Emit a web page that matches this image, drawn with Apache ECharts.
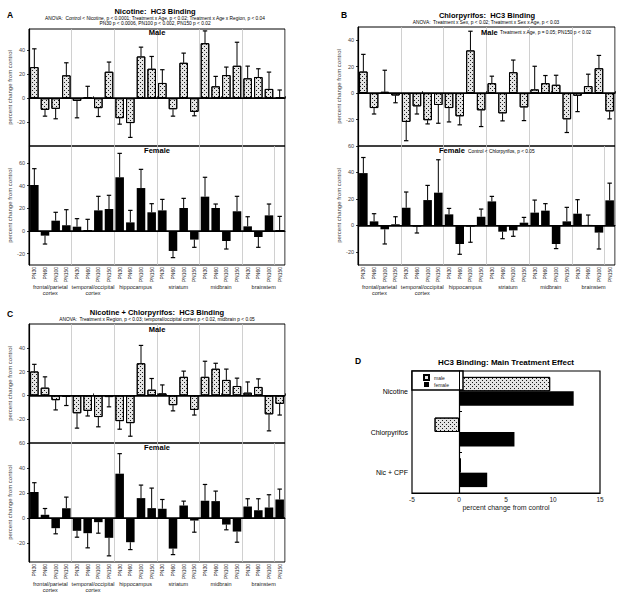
<!DOCTYPE html>
<html><head><meta charset="utf-8">
<script src="https://cdn.jsdelivr.net/npm/echarts@6/dist/echarts.min.js"></script>
<style>html,body{margin:0;padding:0;background:#fff}#c{width:625px;height:600px}</style>
</head><body><div id="c"></div>
<script>
// ---------- data ----------
const ageLabels = ['PN30', 'PN60', 'PN100', 'PN150'];
const regionLabels = ['frontal/parietal\ncortex', 'temporal/occipital\ncortex', 'hippocampus', 'striatum', 'midbrain', 'brainstem'];
const barKeys = [];
regionLabels.forEach((r, ri) => ageLabels.forEach(a => barKeys.push(a + '|' + ri)));

// Panel A: Nicotine (value, error-bar end)
const nicMale = [26.1, -9.7, -8.9, 19.2, -2.2, 0.5, -8.3, 22.2, -16.7, -20.8, 35.0, 24.7, 12.8, -9.2, 29.7, -11.4, 46.1, 10.0, 19.4, 27.2, 16.7, 17.8, 7.8, 0.8];
const nicMaleErr = [41.4, -15.0, -17.2, 29.7, -16.4, 10.0, -15.3, 30.3, -21.7, -32.8, 42.8, 35.0, 23.9, -15.0, 37.8, -14.7, 56.4, 18.3, 26.1, 46.9, 26.9, 24.7, 21.9, 6.9];
const nicFemale = [40.6, -4.1, 9.1, 5.0, 3.8, 0.9, 18.2, 19.4, 47.4, 7.6, 37.9, 16.5, 18.2, -17.6, 20.3, -7.6, 30.3, 20.3, -8.8, 17.4, 4.1, -5.3, 13.8, 0.9];
const nicFemaleErr = [55.0, -11.5, 16.5, 18.8, 10.9, 10.3, 30.6, 31.5, 68.5, 18.2, 54.4, 24.1, 27.9, -23.5, 28.8, -14.4, 47.4, 23.8, -15.9, 30.6, 12.6, -14.4, 23.8, 12.9];

// Panel B: Chlorpyrifos
const cpfMale = [16.3, -11.3, 1.0, -1.8, -21.8, -10.0, -20.5, -9.0, -11.3, -17.5, 32.3, -13.0, 7.5, -15.3, 15.8, -10.8, 2.8, 7.5, 6.3, -19.8, -2.0, 5.3, 18.8, -13.8];
const cpfMaleErr = [29.3, -15.8, 17.3, -7.3, -36.0, -15.8, -23.3, -22.8, -21.8, -24.0, 46.8, -25.3, 12.8, -21.0, 25.0, -20.8, 20.3, 13.3, 13.5, -29.8, -14.0, 14.3, 28.5, -19.5];
const cpfFemale = [39.5, 3.0, -3.0, 0.8, 13.3, -1.0, 19.1, 24.7, 8.3, -14.1, -1.0, 6.5, 18.1, -4.8, -3.8, 2.0, 9.6, 11.1, -14.1, 3.0, 8.8, 0.3, -5.5, 18.9];
const cpfFemaleErr = [51.3, 8.8, -14.1, 6.5, 25.2, -5.8, 30.2, 49.6, 12.8, -21.9, -12.8, 12.3, 21.9, -10.1, -8.3, 6.0, 19.1, 16.4, -17.6, 13.6, 19.4, 7.8, -17.9, 31.9];

// Panel C: Nicotine + Chlorpyrifos
const ncMale = [20.1, 6.5, -4.0, -1.1, -15.0, -13.0, -18.2, -1.4, -21.6, -23.3, 27.0, 4.8, 1.7, -8.2, 15.6, -12.2, 15.6, 22.4, 13.0, 7.9, 2.3, 7.1, -15.9, -7.1];
const ncMaleErr = [26.1, 15.6, -12.2, -8.5, -27.5, -17.3, -26.4, -9.6, -28.4, -34.3, 42.0, 14.2, 8.8, -13.0, 20.4, -16.5, 28.7, 27.0, 22.1, 14.5, 11.3, 13.9, -29.8, -16.5];
const ncFemale = [20.8, 2.7, -8.0, 8.0, -10.1, -12.0, -3.2, -15.7, 35.5, -19.2, 16.0, 8.0, 7.5, -24.3, 10.1, -1.9, 13.9, 13.6, -5.1, -10.7, 9.3, 6.4, 8.5, 14.9];
const ncFemaleErr = [28.3, 7.7, -12.5, 16.8, -15.2, -23.7, -12.0, -30.1, 51.5, -25.1, 26.4, 24.0, 14.9, -29.1, 13.6, -11.2, 26.9, 21.6, -9.3, -19.2, 15.5, 15.5, 18.7, 23.2];

// Panel D: main treatment effect
const treatments = ['Nicotine', 'Chlorpyrifos', 'Nic + CPF'];
const mainMale = [9.7, -2.6, 0.2];
const mainFemale = [12.2, 5.9, 3.0];

// ---------- layout ----------
const FONT = 'Liberation Sans, Arial, Helvetica, sans-serif';
const dotDecal = {
  symbol: 'rect', symbolSize: 1, color: '#1a1a1a',
  dashArrayX: [[1, 3], [0, 2, 1, 1]], dashArrayY: [1, 1], rotation: 0
};
const maleStyle = { color: '#e4e4e4', borderColor: '#000', borderWidth: 1, decal: dotDecal };
const femaleStyle = { color: '#000' };

const panels = [
  { box: { left: 29, top: 29, width: 256, height: 117 }, min: -40, max: 58, ticks: [-20, 0, 20, 40], val: nicMale, err: nicMaleErr, male: true },
  { box: { left: 29, top: 146, width: 256, height: 119 }, min: -30, max: 75, ticks: [-20, 0, 20, 40, 60], val: nicFemale, err: nicFemaleErr, male: false },
  { box: { left: 358, top: 27, width: 257, height: 119 }, min: -40, max: 50, ticks: [-20, 0, 20, 40], val: cpfMale, err: cpfMaleErr, male: true },
  { box: { left: 358, top: 146, width: 257, height: 119 }, min: -30, max: 60, ticks: [-20, 0, 20, 40, 60], val: cpfFemale, err: cpfFemaleErr, male: false },
  { box: { left: 29, top: 324, width: 256, height: 119 }, min: -40, max: 60, ticks: [-20, 0, 20, 40], val: ncMale, err: ncMaleErr, male: true },
  { box: { left: 29, top: 443, width: 256, height: 119 }, min: -35, max: 60, ticks: [-20, 0, 20, 40, 60], val: ncFemale, err: ncFemaleErr, male: false }
];

const grid = [], xAxis = [], yAxis = [], series = [];
panels.forEach((p, i) => {
  grid.push(Object.assign({ show: true, borderColor: '#000', borderWidth: 1, containLabel: false }, p.box));
  const xi = xAxis.length;
  xAxis.push({
    type: 'category', gridIndex: i, data: barKeys, boundaryGap: true, position: 'bottom',
    axisLine: { show: true, lineStyle: { color: '#000', width: 1 } },
    axisTick: { show: p.male, inside: true, length: 2, lineStyle: { color: '#000', width: 0.8 } },
    axisLabel: p.male ? { show: false } : {
      show: true, rotate: 90, interval: 0, fontSize: 5, color: '#222', margin: 2, fontFamily: FONT,
      formatter: v => v.split('|')[0]
    },
    splitLine: { show: true, interval: 3, lineStyle: { color: '#c4c4c4', width: 0.8 } }
  });
  if (!p.male) {
    xAxis.push({
      type: 'category', gridIndex: i, data: regionLabels, position: 'bottom', offset: 19,
      axisLine: { show: false }, axisTick: { show: false }, splitLine: { show: false },
      axisLabel: { interval: 0, fontSize: 5.5, lineHeight: 5.8, color: '#222', margin: 0, fontFamily: FONT }
    });
  }
  yAxis.push({
    type: 'value', gridIndex: i, min: p.min, max: p.max,
    axisLine: { show: true, lineStyle: { color: '#000', width: 1.2 } },
    axisTick: { show: true, length: 2, customValues: p.ticks, lineStyle: { color: '#000', width: 0.8 } },
    axisLabel: { customValues: p.ticks, fontSize: 5.5, color: '#444', margin: 4, fontFamily: FONT },
    splitLine: { show: false },
    name: 'percent change from control', nameLocation: 'middle', nameGap: 12,
    nameTextStyle: { fontSize: 6, color: '#444', fontFamily: FONT }
  });
  series.push({
    type: 'bar', xAxisIndex: xi, yAxisIndex: i, data: p.val, barCategoryGap: '20%',
    itemStyle: p.male ? maleStyle : femaleStyle, z: 2, silent: true,
    markLine: {
      silent: true, symbol: ['none', 'none'], label: { show: false },
      lineStyle: { color: '#000', width: 1.5, type: 'solid' }, data: [{ yAxis: 0 }]
    }
  });
  series.push({
    type: 'custom', xAxisIndex: xi, yAxisIndex: i, z: 3, silent: true,
    encode: { x: 0, y: 1 },
    data: p.val.map((v, k) => [k, v, p.err[k]]),
    renderItem: (params, api) => {
      const p0 = api.coord([api.value(0), api.value(1)]);
      const p1 = api.coord([api.value(0), api.value(2)]);
      const hw = 2.2;
      return {
        type: 'group', children: [
          { type: 'line', shape: { x1: p0[0], y1: p0[1], x2: p1[0], y2: p1[1] }, style: { stroke: '#000', lineWidth: 1 } },
          { type: 'line', shape: { x1: p1[0] - hw, y1: p1[1], x2: p1[0] + hw, y2: p1[1] }, style: { stroke: '#000', lineWidth: 1.2 } }
        ]
      };
    }
  });
});

// Panel D
const gD = grid.length;
grid.push({ left: 412, top: 371, width: 188, height: 122, show: true, borderColor: '#000', borderWidth: 1.2, containLabel: false });
const xD = xAxis.length;
xAxis.push({
  type: 'value', gridIndex: gD, min: -5, max: 15, interval: 5,
  axisLine: { show: true, lineStyle: { color: '#000', width: 1.2 } },
  axisTick: { show: false }, splitLine: { show: false },
  axisLabel: { fontSize: 6.5, color: '#222', margin: 3, fontFamily: FONT },
  name: 'percent change from control', nameLocation: 'middle', nameGap: 10,
  nameTextStyle: { fontSize: 7, color: '#222', fontFamily: FONT }
});
const yD = yAxis.length;
yAxis.push({
  type: 'category', gridIndex: gD, data: treatments, inverse: true,
  axisLine: { show: true, lineStyle: { color: '#000', width: 1.2 } },
  axisTick: { show: true, inside: true, length: 3, lineStyle: { color: '#000' } },
  axisLabel: { fontSize: 7, color: '#000', margin: 4, fontFamily: FONT },
  splitLine: { show: false }
});
series.push({
  name: 'male', type: 'bar', xAxisIndex: xD, yAxisIndex: yD, data: mainMale,
  barGap: '0%', barCategoryGap: '29%', itemStyle: maleStyle, z: 2, silent: true
});
series.push({
  name: 'female', type: 'bar', xAxisIndex: xD, yAxisIndex: yD, data: mainFemale,
  barGap: '0%', barCategoryGap: '29%', itemStyle: femaleStyle, z: 2, silent: true,
  markLine: {
    silent: true, symbol: ['none', 'none'], label: { show: false },
    lineStyle: { color: '#000', width: 1, type: 'solid' }, data: [{ xAxis: 0 }]
  }
});

// Texts
const texts = [
  ['A', 10, 14.7, 8.5, true, 'center'],
  ['Nicotine:  HC3 Binding', 155, 11.6, 7.5, true, 'center'],
  ['ANOVA:  Control < Nicotine, p < 0.0001; Treatment x Age, p < 0.02; Treatment x Age x Region, p < 0.04', 155, 18.3, 4.8, false, 'center'],
  ['PN30 p < 0.0006, PN100 p < 0.002, PN150 p < 0.02', 155, 23.3, 4.8, false, 'center'],
  ['Male', 157, 32.5, 7.5, true, 'center'],
  ['Female', 157, 150.5, 7.5, true, 'center'],
  ['B', 344, 15, 8.5, true, 'center'],
  ['Chlorpyrifos:  HC3 Binding', 487, 15, 7.5, true, 'center'],
  ['ANOVA:  Treatment x Sex, p < 0.02; Treatment x Sex x Age, p < 0.03', 486, 22, 4.8, false, 'center'],
  ['Male', 481, 32.3, 7.5, true, 'left'],
  ['Treatment x Age, p = 0.05; PN150 p < 0.02', 500, 32.6, 4.8, false, 'left'],
  ['Female', 439, 150.5, 7.5, true, 'left'],
  ['Control < Chlorpyrifos, p < 0.05', 468, 151, 4.8, false, 'left'],
  ['C', 10, 314, 8.5, true, 'center'],
  ['Nicotine + Chlorpyrifos:  HC3 Binding', 157, 312.6, 7.5, true, 'center'],
  ['ANOVA:  Treatment x Region, p < 0.03; temporal/occipital cortex p < 0.02, midbrain p < 0.05', 157, 319.4, 4.8, false, 'center'],
  ['Male', 157, 329, 7.5, true, 'center'],
  ['Female', 157, 447.5, 7.5, true, 'center'],
  ['D', 358, 361, 8.5, true, 'center'],
  ['HC3 Binding: Main Treatment Effect', 506, 362, 8, true, 'center']
];
const graphic = texts.map(t => ({
  type: 'text', x: t[1], y: t[2], silent: true, z: 10,
  style: {
    text: t[0], textAlign: t[5], textVerticalAlign: 'middle', fill: '#000',
    fontSize: t[3], fontWeight: t[4] ? 'bold' : 'normal', fontFamily: FONT
  }
}));

const chart = echarts.init(document.getElementById('c'), null, { renderer: 'svg', width: 625, height: 600 });
chart.setOption({
  animation: false,
  backgroundColor: '#fff',
  textStyle: { fontFamily: FONT },
  grid, xAxis, yAxis, series, graphic,
  legend: {
    data: ['male', 'female'], orient: 'vertical', left: 412, top: 371,
    icon: 'rect', itemWidth: 5, itemHeight: 5, itemGap: 1,
    padding: [3, 14, 3, 11], borderColor: '#000', borderWidth: 1.5, backgroundColor: '#fff',
    textStyle: { fontSize: 5, color: '#222', fontFamily: FONT },
    selectedMode: false
  }
});
</script></body></html>
